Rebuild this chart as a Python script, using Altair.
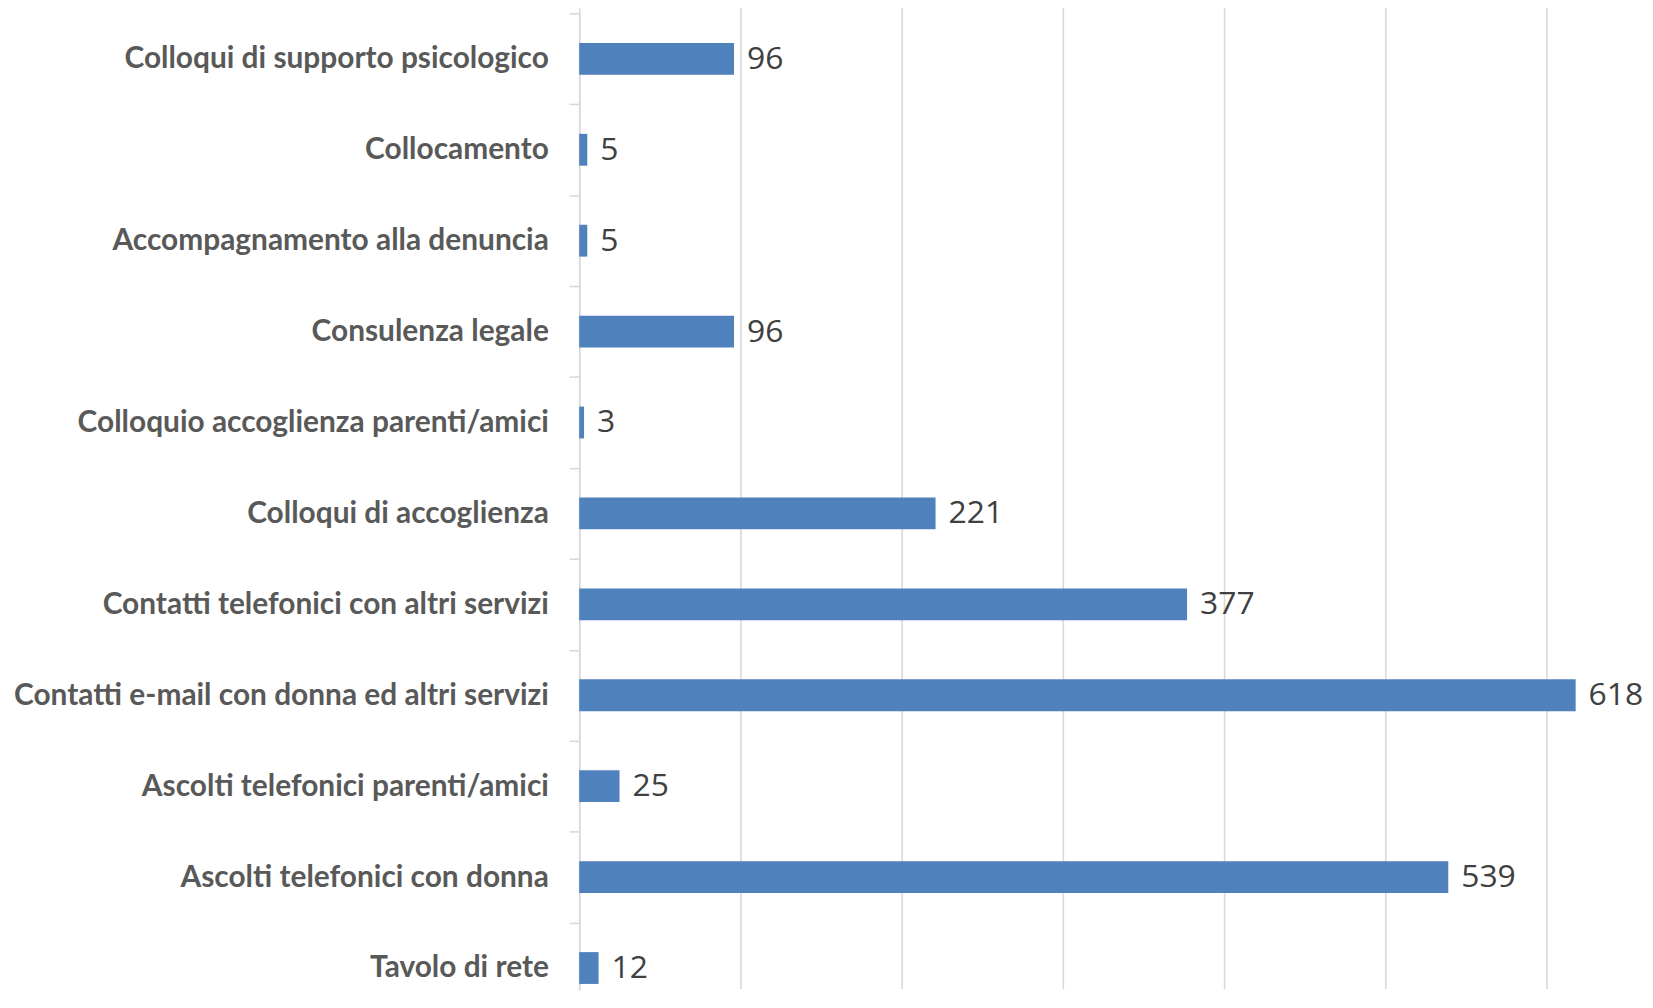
import altair as alt
import pandas as pd

categories = [
    "Colloqui di supporto psicologico",
    "Collocamento",
    "Accompagnamento alla denuncia\u00a0",
    "Consulenza legale\u00a0",
    "Colloquio accoglienza parenti/amici",
    "Colloqui di accoglienza",
    "Contatti telefonici con altri servizi",
    "Contatti e-mail con donna ed altri servizi",
    "Ascolti telefonici parenti/amici",
    "Ascolti telefonici con donna",
    "Tavolo di rete",
]
values = [96, 5, 5, 96, 3, 221, 377, 618, 25, 539, 12]
grid_ticks = [0, 100, 200, 300, 400, 500, 600]

df = pd.DataFrame({"categoria": categories, "valore": values})

x_enc = alt.X(
    "valore:Q",
    scale=alt.Scale(domain=[0, 661], nice=False, zero=True),
    axis=alt.Axis(
        values=grid_ticks, labels=False, ticks=False, domain=False, title=None,
        grid=True, gridColor="#d9d9d9", gridWidth=1.6,
    ),
)
y_enc = alt.Y(
    "categoria:N",
    sort=categories,
    scale=alt.Scale(range=[0, 1005], paddingInner=0, paddingOuter=0),
    axis=alt.Axis(
        title=None, grid=False, domainColor="#d9d9d9", domainWidth=1.6,
        tickColor="#d9d9d9", tickWidth=1.6, tickSize=10, tickBand="extent",
        labelFont="Lato", labelFontWeight="bold", labelFontSize=30,
        labelColor="#595959", labelPadding=21, labelLimit=0,
    ),
)

base = alt.Chart(df).encode(x=x_enc, y=y_enc)

bars = base.mark_bar(color="#4f81bd", height=alt.RelativeBandSize(0.35))
text = base.mark_text(
    align="left", baseline="middle", dx=13, font="Open Sans", fontSize=32,
    color="#404040",
).encode(text="valore:Q")

chart = (
    alt.layer(bars, text)
    .properties(
        width=1071, height=980,
        background="white",
        autosize=alt.AutoSizeParams(type="none"),
        padding={"left": 574, "top": 3, "right": 0, "bottom": 0},
    )
    .configure_view(stroke="transparent", strokeWidth=0)
)

chart.save("out.html", embed_options={"renderer": "svg", "actions": False})
